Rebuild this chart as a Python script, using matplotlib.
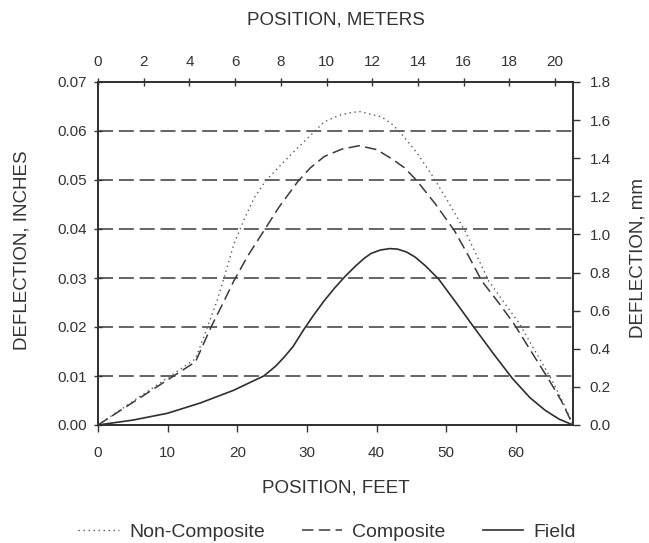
import matplotlib
matplotlib.use("Agg")
import matplotlib.pyplot as plt
from matplotlib.ticker import FormatStrFormatter

plt.rcParams['font.family'] = ['Liberation Sans', 'DejaVu Sans']

# ---------------- data ----------------
noncomp_x = [0, 14, 15.4, 17.1, 18.3, 19.5, 21, 22.4, 24, 25.8, 28, 30, 32.5, 35, 37.5,
             40.7, 42.2, 43.6, 45.8, 47.9, 50.3, 52.7, 54.4, 56.1, 58.3, 60.5, 62.8,
             65.2, 66.8, 68.2]
noncomp_y = [0, 0.0135, 0.0188, 0.0254, 0.031, 0.0369, 0.042, 0.0463, 0.0497, 0.0524,
             0.0556, 0.0584, 0.0619, 0.0634, 0.0640, 0.0629, 0.0614, 0.0594, 0.0555,
             0.0511, 0.0455, 0.0396, 0.0345, 0.0294, 0.0250, 0.0207, 0.0150, 0.0091,
             0.0045, 0.0]

comp_x = [0, 14, 16.2, 18, 19.5, 21.5, 23.8, 26, 28.7, 30.5, 32.5, 35, 37.5, 40, 42.1,
          44, 45.7, 48.5, 51.2, 53.2, 55.1, 57.5, 59.7, 62.2, 64.8, 66.5, 68.2]
comp_y = [0, 0.0129, 0.0199, 0.025, 0.0294, 0.0345, 0.0396, 0.0445, 0.0497, 0.0525,
          0.0548, 0.0563, 0.0570, 0.0562, 0.0544, 0.0525, 0.0500, 0.0450, 0.0396,
          0.0345, 0.0294, 0.0250, 0.0207, 0.0150, 0.0091, 0.0050, 0.0]

field_x = [0, 5, 10, 14.7, 19.5, 22, 23.8, 25.5, 26.7, 28, 29.6, 31, 32.5, 34, 35.4,
           36.8, 38.2, 39.2, 40.5, 41.9, 43, 44.3, 45.5, 47, 48.9, 51.5, 54.1, 56.8,
           59.5, 62, 64.2, 66.2, 68.2]
field_y = [0, 0.0010, 0.0024, 0.0045, 0.0071, 0.0088, 0.0100, 0.0120, 0.0138, 0.0160,
           0.0196, 0.0225, 0.0254, 0.0280, 0.0302, 0.0322, 0.0340, 0.0350, 0.0357,
           0.0360, 0.0359, 0.0353, 0.0343, 0.0325, 0.0298, 0.0248, 0.0197, 0.0145,
           0.0095, 0.0056, 0.0030, 0.0012, 0.0]

series_names = ["Non-Composite", "Composite", "Field"]
inch_ticks = [0.00, 0.01, 0.02, 0.03, 0.04, 0.05, 0.06, 0.07]
mm_ticks = [0.0, 0.2, 0.4, 0.6, 0.8, 1.0, 1.2, 1.4, 1.6, 1.8]
feet_ticks = [0, 10, 20, 30, 40, 50, 60]
meter_ticks = [0, 2, 4, 6, 8, 10, 12, 14, 16, 18, 20]

FT_PER_M = 3.28084
TXT = '#333333'

# ---------------- figure ----------------
fig = plt.figure(figsize=(6.49, 5.43), dpi=100)
W, H = 649, 543
left, right, top, bottom = 98, 573, 82, 425
ax = fig.add_axes([left / W, 1 - bottom / H, (right - left) / W, (bottom - top) / H])

ax.plot(noncomp_x, noncomp_y, color='#5a5a5a', lw=1.0, linestyle=(0, (1, 2.6)),
        label=series_names[0])
ax.plot(comp_x, comp_y, color='#3a3a3a', lw=1.1, linestyle=(0, (7.5, 3.5)),
        label=series_names[1])
ax.plot(field_x, field_y, color='#2e2e2e', lw=1.2, linestyle='-',
        label=series_names[2])

ax.set_xlim(0, 68.2)
ax.set_ylim(0, 0.07)
ax.set_xticks(feet_ticks)
ax.set_yticks(inch_ticks)
ax.yaxis.set_major_formatter(FormatStrFormatter('%.2f'))

ax.grid(axis='y', color='#4a4a4a', lw=1.2, linestyle=(0, (9, 3.5)))
ax.grid(axis='x', visible=False)

for s in ax.spines.values():
    s.set_color('#333333')
    s.set_linewidth(1.3)

ax.tick_params(axis='x', direction='out', length=5, width=1.0, pad=10,
               labelsize=11, colors=TXT)
ax.tick_params(axis='y', direction='inout', length=6, width=1.0, pad=5,
               labelsize=11, colors=TXT)

ax.set_xlabel("POSITION, FEET", fontsize=13.5, color=TXT, va='center')
ax.xaxis.set_label_coords(0.5, (bottom - 488) / (bottom - top))
ax.set_ylabel("DEFLECTION, INCHES", fontsize=13.5, color=TXT, va='center', ha='center')
ax.yaxis.set_label_coords((22 - left) / (right - left), (bottom - 250) / (bottom - top))

# top axis in meters
secax = ax.secondary_xaxis('top', functions=(lambda f: f / FT_PER_M,
                                             lambda m: m * FT_PER_M))
secax.set_xticks(meter_ticks)
secax.tick_params(direction='inout', length=6, width=1.0, pad=6,
                  labelsize=11, colors=TXT)
secax.spines['top'].set_color('#333333')
secax.spines['top'].set_linewidth(1.3)
secax.set_xlabel("POSITION, METERS", fontsize=13.5, color=TXT, va='center')
secax.xaxis.set_label_coords(0.5, (bottom - 20) / (bottom - top), transform=ax.transAxes)

# right axis in mm
ax2 = ax.twinx()
ax2.set_ylim(0, 1.8)
ax2.set_yticks(mm_ticks)
ax2.yaxis.set_major_formatter(FormatStrFormatter('%.1f'))
ax2.tick_params(axis='y', direction='out', length=5, width=1.0, pad=7,
                labelsize=11, colors=TXT)
for s in ax2.spines.values():
    s.set_color('#333333')
    s.set_linewidth(1.3)
ax2.set_ylabel("DEFLECTION, mm", fontsize=13.5, color=TXT, va='center', ha='center')
ax2.yaxis.set_label_coords((638 - left) / (right - left), (bottom - 258) / (bottom - top))

leg = ax.legend(loc='center', bbox_to_anchor=(327 / W, 1 - 532 / H),
                bbox_transform=fig.transFigure, ncol=3, frameon=False,
                fontsize=14, handlelength=2.1, handletextpad=0.5,
                columnspacing=1.9, borderpad=0)
for t in leg.get_texts():
    t.set_color(TXT)

fig.savefig("out.png", dpi=100, facecolor='white')
